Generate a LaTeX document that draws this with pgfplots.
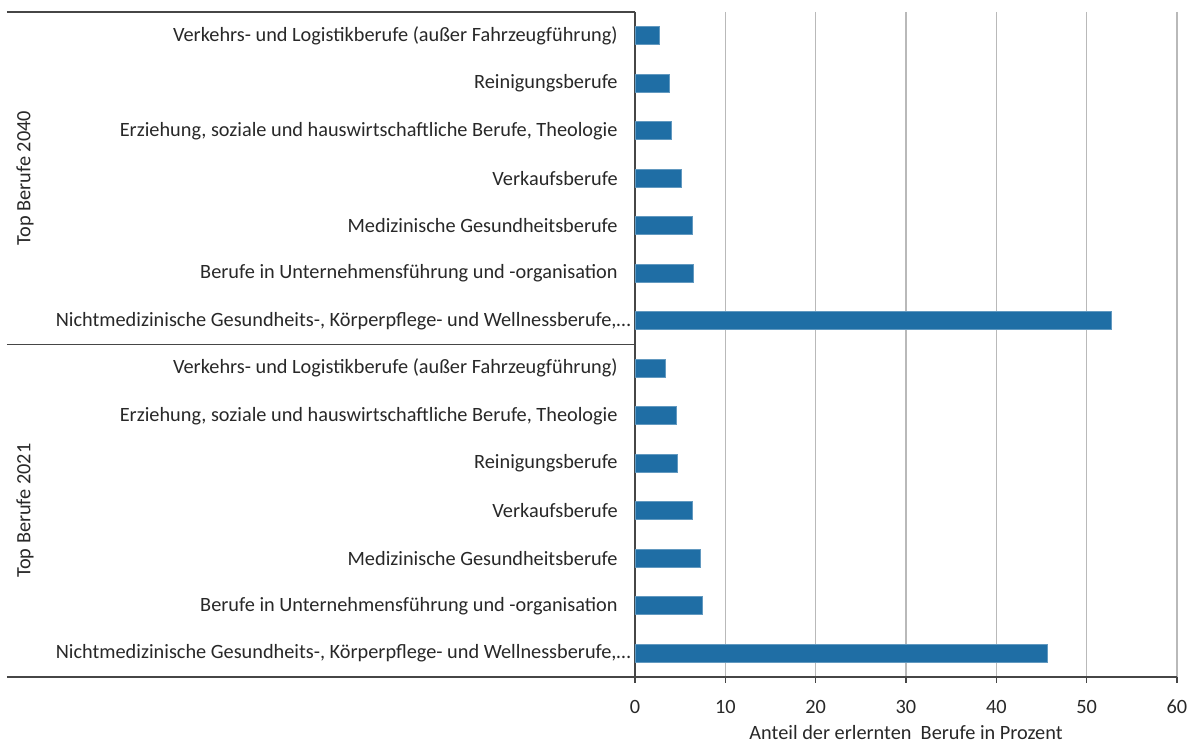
\documentclass[border=0pt]{standalone}
\usepackage{pgfplots}
\pgfplotsset{compat=1.18}
\usepackage{pgfplotstable}
\usepackage{fontspec}
\setmainfont{Carlito}
\definecolor{barblue}{RGB}{31,110,165}
\definecolor{gridgray}{RGB}{185,185,185}
\definecolor{axisgray}{RGB}{70,70,70}
\definecolor{txt}{RGB}{40,40,40}

\pgfplotstableread{
y v
0.5 2.7
1.5 3.85
2.5 4.0
3.5 5.1
4.5 6.35
5.5 6.5
6.5 52.7
7.5 3.4
8.5 4.6
9.5 4.7
10.5 6.35
11.5 7.2
12.5 7.45
13.5 45.6
}\data

\begin{document}
\begin{tikzpicture}[font=\fontsize{10.15}{12}\selectfont, text=txt]
\path[use as bounding box] (0,0) rectangle (595pt,371pt);
\begin{axis}[
  at={(317.5pt,32.5pt)}, anchor=south west,
  scale only axis, width=271pt, height=332.5pt,
  xbar, bar width=0.38,
  xmin=0, xmax=60, ymin=0, ymax=14, y dir=reverse,
  axis x line*=bottom, axis y line*=left,
  axis line style={axisgray, line width=0.6pt},
  xtick={0,10,...,60},
  x tick style={axisgray, line width=0.6pt},
  tick align=outside, major tick length=3pt,
  xmajorgrids, grid style={gridgray, line width=0.8pt},
  ytick={0.5,1.5,...,13.5},
  y tick style={draw=none},
  yticklabels={
    {Verkehrs- und Logistikberufe (außer Fahrzeugführung)},
    {Reinigungsberufe},
    {Erziehung, soziale und hauswirtschaftliche Berufe, Theologie},
    {Verkaufsberufe},
    {Medizinische Gesundheitsberufe},
    {Berufe in Unternehmensführung und -organisation},
    {Nichtmedizinische Gesundheits-, Körperpflege- und Wellnessberufe,…\hspace*{-6.5pt}},
    {Verkehrs- und Logistikberufe (außer Fahrzeugführung)},
    {Erziehung, soziale und hauswirtschaftliche Berufe, Theologie},
    {Reinigungsberufe},
    {Verkaufsberufe},
    {Medizinische Gesundheitsberufe},
    {Berufe in Unternehmensführung und -organisation},
    {Nichtmedizinische Gesundheits-, Körperpflege- und Wellnessberufe,…\hspace*{-6.5pt}}},
  yticklabel style={anchor=east, inner sep=0pt, xshift=-5.5pt, font=\fontsize{10.15}{12}\selectfont, text=txt},
  xticklabel style={anchor=center, inner sep=0pt, yshift=-12pt, font=\fontsize{10.15}{12}\selectfont, text=txt},
  /pgf/number format/assume math mode=true,
  xlabel={Anteil der erlernten~ Berufe in Prozent},
  xlabel style={at={(axis description cs:0.5,0)}, anchor=center, yshift=-28pt, font=\fontsize{10.15}{12}\selectfont, text=txt},
  clip=false,
]
\addplot[fill=barblue, draw=barblue!70!white, line width=0.3pt] table[x=v, y=y] {\data};
\draw[axisgray, line width=0.6pt] ([xshift=-314pt]axis cs:0,0) -- (axis cs:0,0);
\draw[axisgray, line width=0.6pt] ([xshift=-314pt]axis cs:0,7) -- (axis cs:0,7);
\draw[axisgray, line width=0.6pt] ([xshift=-314pt]axis cs:0,14) -- (axis cs:0,14);
\node[rotate=90, anchor=center, text=txt] at ([xshift=-305pt]axis cs:0,3.5) {Top Berufe 2040};
\node[rotate=90, anchor=center, text=txt] at ([xshift=-305pt]axis cs:0,10.5) {Top Berufe 2021};
\end{axis}
\end{tikzpicture}
\end{document}
